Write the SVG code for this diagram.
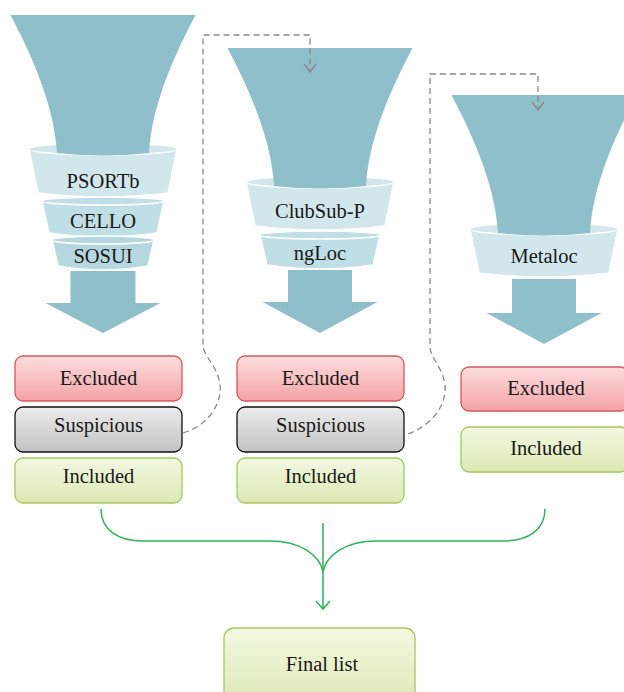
<svg xmlns="http://www.w3.org/2000/svg" xmlns:xlink="http://www.w3.org/1999/xlink" width="624" height="692" viewBox="0 0 624 692">
  <style>
    .funnel { fill: #8fbfcb; }
    .ring-big { fill: #d2e7ec; stroke: #ffffff; stroke-width: 1.5; }
    .ring-mid { fill: #c0dee5; stroke: #ffffff; stroke-width: 1.5; }
    .ring-low { fill: #b6d7df; stroke: #ffffff; stroke-width: 1.5; }
    .arrow { fill: #8fbfcb; }
    .lbl { font-family: "Liberation Serif", "Times New Roman", serif; font-size: 20.5px; fill: #1a1a1a; text-anchor: middle; }
    .box-ex { fill: url(#gEx); stroke: #d6585c; stroke-width: 1.3; }
    .box-su { fill: url(#gSu); stroke: #111111; stroke-width: 1.3; }
    .box-in { fill: url(#gIn); stroke: #a2c85f; stroke-width: 1.3; }
    .dash { fill: none; stroke: #888888; stroke-width: 1.3; stroke-dasharray: 6 4; }
    .dash-head { fill: none; stroke: #888888; stroke-width: 1.3; }
    .merge { fill: none; stroke: #2db35a; stroke-width: 1.5; }
  </style>
  <defs>
    <linearGradient id="gEx" x1="0" y1="0" x2="0" y2="1">
      <stop offset="0" stop-color="#fcdddf"/>
      <stop offset="1" stop-color="#f4a3a5"/>
    </linearGradient>
    <linearGradient id="gSu" x1="0" y1="0" x2="0" y2="1">
      <stop offset="0" stop-color="#ececec"/>
      <stop offset="1" stop-color="#c2c2c2"/>
    </linearGradient>
    <linearGradient id="gIn" x1="0" y1="0" x2="0" y2="1">
      <stop offset="0" stop-color="#f3f8e2"/>
      <stop offset="1" stop-color="#dce8b3"/>
    </linearGradient>
    <!-- funnel body with its first ring, local origin = top centre -->
    <g id="funnelTop">
      <path class="ring-big" d="M-74,134 L-65,178 Q0,186 65,178 L74,134 Z"/>
      <ellipse class="ring-big" cx="0" cy="134" rx="74" ry="6"/>
      <path class="funnel" d="M-92.5,0 L92.5,0 C76,32 49,85 46,138 Q0,143 -46,138 C-49,85 -76,32 -92.5,0 Z"/>
    </g>
  </defs>

  <!-- Stage 1 -->
  <g id="stage1">
    <use xlink:href="#funnelTop" transform="translate(103,15)"/>
    <g transform="translate(103,15)">
      <path class="ring-mid" d="M-61,186 L-54,218 Q0,226 54,218 L61,186 Z"/>
      <ellipse class="ring-mid" cx="0" cy="186" rx="61" ry="4"/>
      <path class="ring-low" d="M-51,225 L-45,251 Q0,259 45,251 L51,225 Z"/>
      <ellipse class="ring-low" cx="0" cy="225" rx="51" ry="4"/>
      <path class="arrow" d="M-32.5,256 L32.5,256 L32.5,288 L57.5,288 L0,318 L-57.5,288 L-32.5,288 Z"/>
    </g>
    <text class="lbl" x="103" y="188">PSORTb</text>
    <text class="lbl" x="103" y="228">CELLO</text>
    <text class="lbl" x="103" y="263">SOSUI</text>
  </g>

  <!-- Stage 2 -->
  <g id="stage2">
    <use xlink:href="#funnelTop" transform="translate(320,48)"/>
    <g transform="translate(320,48)">
      <path class="ring-mid" d="M-60,187 L-53,217 Q0,225 53,217 L60,187 Z"/>
      <ellipse class="ring-mid" cx="0" cy="187" rx="60" ry="4"/>
      <path class="arrow" d="M-32,222 L32,222 L32,254 L57.5,254 L0,285 L-57.5,254 L-32,254 Z"/>
    </g>
    <text class="lbl" x="320" y="218">ClubSub-P</text>
    <text class="lbl" x="320" y="260">ngLoc</text>
  </g>

  <!-- Stage 3 -->
  <g id="stage3">
    <use xlink:href="#funnelTop" transform="translate(544,95)"/>
    <g transform="translate(544,95)">
      <path class="arrow" d="M-32,184 L32,184 L32,218 L57.5,218 L0,249 L-57.5,218 L-32,218 Z"/>
    </g>
    <text class="lbl" x="544" y="263">Metaloc</text>
  </g>

  <!-- Result boxes -->
  <g id="excluded1"><rect class="box-ex" x="15" y="356" width="167" height="45" rx="8"/><text class="lbl" x="98.5" y="385">Excluded</text></g>
  <g id="suspicious1"><rect class="box-su" x="15" y="407" width="167" height="45" rx="8"/><text class="lbl" x="98.5" y="432">Suspicious</text></g>
  <g id="included1"><rect class="box-in" x="15" y="458" width="167" height="45" rx="8"/><text class="lbl" x="98.5" y="483">Included</text></g>

  <g id="excluded2"><rect class="box-ex" x="237" y="356" width="167" height="45" rx="8"/><text class="lbl" x="320.5" y="385">Excluded</text></g>
  <g id="suspicious2"><rect class="box-su" x="237" y="407" width="167" height="45" rx="8"/><text class="lbl" x="320.5" y="432">Suspicious</text></g>
  <g id="included2"><rect class="box-in" x="237" y="458" width="167" height="45" rx="8"/><text class="lbl" x="320.5" y="483">Included</text></g>

  <g id="excluded3"><rect class="box-ex" x="461" y="367" width="167" height="44" rx="8"/><text class="lbl" x="546" y="395">Excluded</text></g>
  <g id="included3"><rect class="box-in" x="461" y="427" width="167" height="45" rx="8"/><text class="lbl" x="546" y="455">Included</text></g>

  <g id="finalList"><rect class="box-in" x="224" y="628" width="191" height="80" rx="10"/><text class="lbl" x="322" y="671">Final list</text></g>

  <!-- Connectors -->
  <g id="connectors">
    <path class="dash" d="M183,433 C210,425 222,402 220,385 C218,366 203,356 203,345 L203,35 L310,35 L310,71"/>
    <path class="dash-head" d="M304,64 L310,72 L316,64"/>
    <path class="dash" d="M408,434 C435,424 447,402 445,385 C443,368 430,357 430,347 L430,74 L538,74 L538,109"/>
    <path class="dash-head" d="M532,102 L538,110 L544,102"/>

    <path class="merge" d="M101,509 C101,530 118,541 143,541 L270,541 C300,541 320,555 323,572"/>
    <path class="merge" d="M545,509 C545,530 528,541 503,541 L376,541 C346,541 326,555 323,572"/>
    <path class="merge" d="M323,523 L323,609"/>
    <path class="merge" d="M316,601 L323,609 L330,601"/>
  </g>
</svg>
